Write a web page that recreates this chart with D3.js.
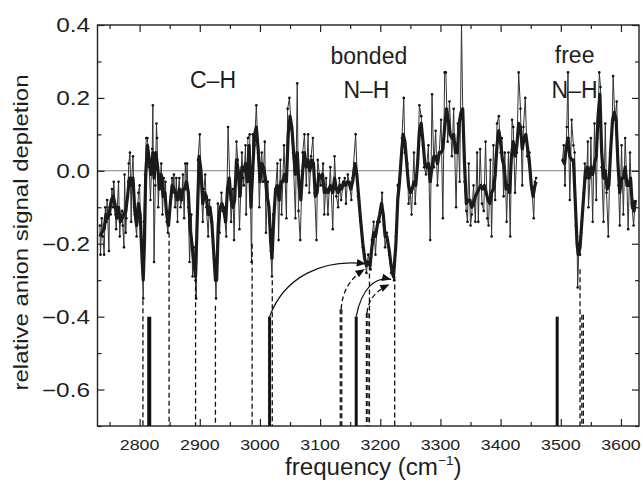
<!DOCTYPE html>
<html><head><meta charset="utf-8">
<script src="https://cdn.jsdelivr.net/npm/d3@7/dist/d3.min.js"></script>
<style>
html,body{margin:0;padding:0;background:#fff}
svg{display:block}
text{font-family:"Liberation Sans",Arial,Helvetica,sans-serif;fill:#1e1e1e}
</style>
</head><body>
<svg id="c" width="643" height="484"></svg>
<script>
// ---------------- data ----------------
const rawFreq = [
2734,2735,2737,2739,2741,2743,2745,2746,2749,2750,2752,2754,2756,2757,2760,2761,2763,2765,2767,2768,
2771,2772,2774,2775,2777,2778,2781,2782,2784,2786,2787,2789,2791,2792,2795,2796,2798,2800,2802,2804,
2806,2807,2809,2811,2813,2814,2816,2818,2821,2822,2824,2826,2828,2829,2831,2833,2834,2836,2838,2840,
2842,2843,2845,2847,2848,2850,2852,2854,2855,2857,2859,2861,2863,2864,2866,2868,2870,2872,2874,2876,
2878,2879,2881,2883,2886,2888,2890,2893,2894,2897,2900,2902,2905,2907,2909,2911,2914,2916,2919,2921,
2924,2926,2927,2930,2933,2936,2938,2940,2942,2944,2947,2950,2952,2955,2957,2959,2961,2963,2966,2968,
2970,2972,2973,2976,2977,2980,2983,2984,2986,2988,2991,2994,2997,2999,3001,3003,3005,3008,3010,3013,
3016,3018,3020,3022,3024,3029,3031,3034,3036,3040,3044,3046,3049,3052,3055,3059,3062,3064,3067,3071,
3074,3077,3080,3082,3085,3088,3091,3094,3096,3101,3105,3107,3110,3113,3117,3121,3124,3127,3130,3132,
3135,3138,3141,3143,3146,3149,3152,3154,3159,3163,3167,3171,3174,3177,3180,3184,3186,3189,3192,3195,
3199,3203,3206,3208,3211,3215,3218,3223,3226,3229,3232,3236,3239,3241,3245,3247,3250,3252,3256,3258,
3262,3265,3268,3271,3273,3276,3280,3283,3286,3289,3292,3295,3298,3301,3304,3307,3309,3312,3315,3319,
3322,3326,3329,3332,3335,3337,3340,3343,3345,3347,3350,3352,3355,3358,3361,3363,3366,3369,3372,3375,
3378,3380,3383,3385,3388,3391,3394,3397,3400,3402,3405,3407,3410,3413,3416,3419,3421,3424,3427,3430,
3433,3436,3438,3441,3444,3448,3452,3455,3457,3459,
3503,3505,3507,3510,3512,3513,3515,3518,3521,3523,3525,3527,3528,3530,3532,3534,3535,3538,3540,3543,
3545,3546,3549,3550,3553,3556,3559,3561,3564,3566,3568,3571,3574,3576,3579,3582,3585,3587,3590,3593,
3596,3598,3601,3604,3607,3610,3612,3615,3618,3621,3623];
const rawVal = [
-0.15,-0.23,-0.13,-0.18,-0.23,-0.10,-0.14,-0.08,-0.22,-0.10,-0.12,-0.05,-0.10,-0.03,-0.12,-0.16,-0.10,-0.03,-0.18,-0.14,
-0.11,-0.15,-0.21,-0.01,-0.17,-0.13,-0.03,0.02,0.05,-0.14,-0.02,0.04,-0.10,-0.12,-0.18,-0.14,-0.06,-0.04,-0.18,-0.25,
-0.35,-0.14,-0.01,0.09,0.09,0.05,0.01,-0.08,0.06,0.18,-0.25,-0.04,0.13,0.09,-0.10,-0.01,-0.04,0.02,-0.12,-0.02,
-0.06,-0.03,-0.14,-0.17,-0.14,-0.12,-0.07,-0.02,-0.06,-0.01,-0.10,-0.02,-0.14,-0.06,-0.02,-0.10,-0.08,-0.01,-0.13,0.02,
-0.04,0.02,-0.10,-0.25,-0.12,-0.29,-0.21,-0.30,-0.35,0.03,0.10,-0.03,-0.14,-0.05,-0.01,-0.10,-0.18,-0.08,-0.14,-0.18,
-0.24,-0.30,-0.35,-0.09,-0.17,-0.06,-0.11,-0.10,-0.14,-0.18,0.12,-0.03,-0.14,-0.05,-0.19,-0.03,0.08,0.03,-0.16,-0.06,
0.05,-0.02,-0.04,0.07,-0.12,0.09,0.10,-0.05,-0.25,0.10,0.07,0.18,0.05,-0.10,0.01,0.05,-0.03,0.08,-0.17,-0.03,
-0.14,-0.22,-0.29,-0.12,-0.10,0.02,-0.19,0.03,-0.12,0.07,-0.13,0.17,0.20,0.12,0.05,-0.13,0.24,-0.11,-0.19,0.05,
0.10,-0.04,0.10,-0.06,0.04,0.09,-0.06,-0.19,0.03,-0.04,0.02,-0.12,-0.02,-0.12,0.01,-0.16,0.04,-0.07,-0.10,-0.02,
-0.08,-0.04,-0.02,-0.09,-0.01,-0.04,-0.08,-0.02,0.10,-0.07,-0.14,-0.21,-0.23,-0.28,-0.23,-0.27,-0.19,-0.14,-0.23,-0.14,
-0.14,-0.06,-0.15,-0.21,-0.17,-0.23,-0.28,-0.30,-0.18,-0.04,-0.02,0.09,0.20,0.05,0.02,-0.09,-0.06,-0.12,0.05,-0.09,
0.02,0.18,0.15,0.07,0.01,-0.01,0.07,-0.19,0.21,0.01,0.11,-0.04,0.05,0.14,-0.13,0.27,0.27,0.08,0.19,0.04,
0.17,-0.10,0.13,-0.03,0.40,0.17,-0.03,-0.11,-0.14,0.02,-0.15,-0.12,-0.04,-0.14,0.05,-0.14,0.06,-0.09,-0.11,0.08,
-0.13,-0.15,0.03,-0.18,0.07,-0.08,0.13,0.15,0.05,0.09,-0.07,0.05,-0.14,0.05,-0.18,0.14,0.12,-0.06,0.05,0.27,
0.17,-0.04,0.12,0.20,0.04,0.05,-0.05,-0.13,-0.03,-0.02,
0.03,0.07,-0.04,0.12,0.27,0.09,-0.08,0.14,0.07,0.05,-0.15,-0.18,-0.32,-0.22,-0.23,-0.17,-0.14,-0.06,0.02,-0.02,
0.08,-0.10,-0.01,0.09,-0.14,0.13,-0.08,0.09,0.27,0.23,0.01,-0.14,0.13,-0.06,-0.18,0.05,0.09,0.26,0.14,0.19,
-0.04,-0.15,0.07,-0.12,0.09,-0.04,-0.16,0.05,-0.09,-0.15,-0.10];

const smoothFreq = [
2734,2737,2741,2744,2747,2750,2753,2756,2759,2762,2765,2768,2771,2774,2777,2780,2783,2786,2789,2792,
2795,2798,2801,2804,2806,2808,2810,2813,2816,2819,2822,2824,2827,2830,2833,2836,2839,2842,2845,2848,
2851,2854,2857,2860,2863,2866,2869,2872,2875,2878,2881,2884,2887,2890,2893,2896,2899,2902,2905,2908,
2911,2914,2917,2920,2923,2926,2928,2931,2934,2937,2940,2943,2946,2949,2952,2955,2958,2961,2964,2967,
2970,2973,2976,2979,2982,2985,2988,2991,2994,2997,3000,3003,3006,3009,3012,3015,3018,3020,3023,3026,
3029,3032,3035,3038,3041,3044,3047,3050,3053,3056,3059,3062,3065,3068,3071,3074,3077,3080,3083,3086,
3089,3092,3095,3098,3101,3104,3107,3110,3113,3117,3121,3124,3127,3130,3133,3136,3139,3142,3145,3148,
3151,3154,3158,3161,3164,3167,3171,3174,3177,3180,3183,3186,3189,3192,3195,3199,3202,3205,3208,3211,
3215,3218,3222,3226,3229,3232,3235,3238,3241,3244,3247,3250,3253,3256,3259,3262,3265,3268,3271,3274,
3277,3280,3283,3286,3289,3292,3295,3298,3301,3304,3307,3310,3313,3316,3319,3322,3325,3328,3331,3334,
3337,3340,3343,3346,3349,3352,3355,3358,3361,3364,3367,3370,3373,3376,3379,3382,3385,3388,3391,3394,
3397,3400,3403,3406,3409,3412,3415,3418,3421,3424,3427,3430,3433,3436,3439,3442,3445,3448,3451,3454,
3457,3459,
3503,3506,3509,3512,3515,3518,3521,3524,3527,3529,3532,3535,3538,3541,3544,3547,3550,3553,3556,3559,
3562,3565,3568,3571,3574,3577,3580,3583,3586,3589,3592,3595,3598,3601,3604,3607,3610,3613,3616,3619,
3622,3624];
const smoothVal = [
-0.18,-0.17,-0.16,-0.12,-0.13,-0.11,-0.08,-0.07,-0.09,-0.13,-0.10,-0.14,-0.13,-0.12,-0.11,-0.07,-0.02,-0.04,-0.02,-0.11,
-0.15,-0.09,-0.12,-0.24,-0.30,-0.20,-0.02,0.07,0.03,-0.01,0.05,-0.02,0.05,0.01,-0.05,-0.01,-0.07,-0.06,-0.12,-0.15,
-0.09,-0.04,-0.05,-0.06,-0.08,-0.05,-0.08,-0.05,-0.05,-0.03,-0.06,-0.16,-0.20,-0.25,-0.29,-0.12,0.04,0.00,-0.09,-0.06,
-0.07,-0.12,-0.10,-0.14,-0.22,-0.30,-0.30,-0.14,-0.10,-0.09,-0.11,-0.14,-0.05,-0.02,-0.08,-0.10,-0.08,0.03,0.00,-0.07,
0.01,0.00,0.02,-0.03,0.07,-0.10,0.00,0.10,0.12,0.06,-0.03,0.02,0.01,-0.02,-0.07,-0.10,-0.20,-0.24,-0.13,-0.05,
-0.04,-0.08,-0.03,-0.03,-0.01,-0.03,0.10,0.15,0.12,0.05,-0.01,0.05,-0.04,-0.08,0.00,0.05,0.01,0.03,0.00,0.03,
0.02,-0.07,-0.06,-0.01,-0.02,-0.01,-0.06,-0.05,-0.06,-0.04,-0.06,-0.02,-0.05,-0.06,-0.04,-0.05,-0.03,-0.04,-0.03,-0.03,
-0.05,-0.03,0.02,-0.01,-0.07,-0.13,-0.20,-0.24,-0.26,-0.25,-0.26,-0.21,-0.17,-0.18,-0.15,-0.12,-0.09,-0.12,-0.18,-0.18,
-0.22,-0.26,-0.29,-0.20,-0.08,-0.03,0.04,0.10,0.08,0.02,-0.04,-0.06,-0.05,-0.03,-0.04,0.02,0.11,0.13,0.08,0.02,
0.01,0.02,-0.03,0.01,0.04,0.04,0.02,0.05,0.05,0.06,0.12,0.17,0.14,0.10,0.09,0.10,0.05,0.05,0.13,0.16,
0.17,0.02,-0.09,-0.08,-0.08,-0.10,-0.09,-0.07,-0.06,-0.05,-0.04,-0.05,-0.04,-0.06,-0.08,-0.09,-0.06,-0.05,-0.01,0.07,
0.11,0.08,0.03,0.01,-0.05,-0.04,-0.06,0.04,0.08,0.04,0.07,0.13,0.12,0.06,0.09,0.10,0.06,0.02,-0.04,-0.07,
-0.04,-0.03,
0.03,0.02,0.06,0.09,0.04,0.03,0.03,-0.08,-0.20,-0.23,-0.21,-0.14,-0.07,0.00,0.01,-0.02,0.01,-0.01,0.02,0.04,
0.15,0.21,0.05,-0.02,0.00,-0.05,-0.04,0.06,0.14,0.16,0.14,0.02,-0.06,-0.02,-0.02,0.01,-0.04,-0.04,-0.02,-0.10,
-0.11,-0.08];

const xTicks = [2800,2900,3000,3100,3200,3300,3400,3500,3600];
const xTickLabels = ["2800","2900","3000","3100","3200","3300","3400","3500","3600"];
const xMinorTicks = [2750,2850,2950,3050,3150,3250,3350,3450,3550];
const yTicks = [0.4,0.2,0.0,-0.2,-0.4,-0.6];
const yTickLabels = ["0.4","0.2","0.0","\u22120.2","\u22120.4","\u22120.6"];
const yMinorTicks = [0.3,0.1,-0.1,-0.3,-0.5,-0.7];

// calculated frequencies (sticks) and experimental band positions (dashed)
const stickFreq = [2816,3016,3160,3494];
const stickTop = -0.4;
const dashFreq = [2805.5,2849,2893,2926,2987,3020.5,3133.5,3136,3177,3179.5,3182,3224,3532,3535,3537.5];
const dashTop  = [-0.355,-0.17,-0.295,-0.37,-0.2,-0.30,-0.38,-0.38,-0.39,-0.39,-0.26,-0.29,-0.27,-0.395,-0.395];

// arrows linking calculated to observed bands
const arcFromFreq = [3016,3135,3160,3178];
const arcFromVal  = [-0.40,-0.38,-0.40,-0.39];
const arcToFreq   = [3176,3174,3218,3215];
const arcToVal    = [-0.255,-0.27,-0.298,-0.312];
const arcDashed   = [false,true,false,true];

const bandLabels = ["C\u2013H","bonded","N\u2013H","free","N\u2013H"];
const bandLabelFreq = [2922,3181,3177,3523,3523];
const bandLabelVal  = [0.227,0.293,0.200,0.296,0.200];

// ---------------- chart ----------------
const M = {left:97.5, right:639, top:25, bottom:426};
const svg = d3.select("#c");
const x = d3.scaleLinear().domain([2730,3630]).range([M.left, M.right]);
const y = d3.scaleLinear().domain([-0.7,0.4]).range([M.bottom, M.top]);

svg.append("defs").append("clipPath").attr("id","plot")
  .append("rect").attr("x",M.left).attr("y",M.top)
  .attr("width",M.right-M.left).attr("height",M.bottom-M.top);

const plot = svg.append("g").attr("clip-path","url(#plot)");

plot.append("line").attr("x1",M.left).attr("x2",M.right)
  .attr("y1",y(0)).attr("y2",y(0)).attr("stroke","#808080").attr("stroke-width",1.1);

function toSegments(fs, vs){
  const segs=[]; let cur=[];
  fs.forEach((f,i)=>{
    if(cur.length && f - cur[cur.length-1].f > 20){ segs.push(cur); cur=[]; }
    cur.push({f:f, v:vs[i]});
  });
  if(cur.length) segs.push(cur);
  return segs;
}
const line = d3.line().x(d=>x(d.f)).y(d=>y(d.v));

toSegments(rawFreq, rawVal).forEach(s=>{
  plot.append("path").attr("d",line(s)).attr("fill","none")
    .attr("stroke","#333").attr("stroke-width",1).attr("stroke-linejoin","round");
});
plot.append("g").selectAll("circle").data(rawFreq.map((f,i)=>({f:f,v:rawVal[i]})))
  .join("circle").attr("cx",d=>x(d.f)).attr("cy",d=>y(d.v)).attr("r",1.3).attr("fill","#111");

toSegments(smoothFreq, smoothVal).forEach(s=>{
  plot.append("path").attr("d",line(s)).attr("fill","none")
    .attr("stroke","#1b1b1b").attr("stroke-width",3.2).attr("stroke-linejoin","round");
});

plot.append("g").selectAll("line").data(dashFreq.map((f,i)=>({f:f,v:dashTop[i]})))
  .join("line").attr("x1",d=>x(d.f)).attr("x2",d=>x(d.f))
  .attr("y1",d=>y(d.v)).attr("y2",y(-0.7))
  .attr("stroke","#111").attr("stroke-width",1.3).attr("stroke-dasharray","5,3");

plot.append("g").selectAll("line").data(stickFreq)
  .join("line").attr("x1",d=>x(d)).attr("x2",d=>x(d))
  .attr("y1",y(stickTop)).attr("y2",y(-0.7))
  .attr("stroke","#111").attr("stroke-width",(d,i)=>i===0?4:3);

arcFromFreq.forEach((f0,i)=>{
  const x0=x(f0), y0=y(arcFromVal[i]), x1=x(arcToFreq[i]), y1=y(arcToVal[i]);
  const dx=x1-x0, dy=y0-y1;
  let c1, c2;
  if(!arcDashed[i]){ c1=[x0+0.15*dx, y0-0.75*dy]; c2=[x0+0.55*dx, y1-0.1*dy]; }
  else { c1=[x0+0.05*dx, y0-0.5*dy]; c2=[x0+0.45*dx, y1+0.2*dy]; }
  const p = d3.path(); p.moveTo(x0,y0); p.bezierCurveTo(c1[0],c1[1],c2[0],c2[1],x1,y1);
  const ang = Math.atan2(y1-c2[1], x1-c2[0]);
  const L=9, hw=3.8;
  const bx=x1-L*Math.cos(ang), by=y1-L*Math.sin(ang);
  svg.append("path").attr("d",p.toString()).attr("fill","none").attr("stroke","#111")
    .attr("stroke-width",arcDashed[i]?1.3:1.2).attr("stroke-dasharray",arcDashed[i]?"5,3":null);
  const pts=[[x1,y1],[bx+hw*Math.sin(ang),by-hw*Math.cos(ang)],[bx-hw*Math.sin(ang),by+hw*Math.cos(ang)]];
  svg.append("path").attr("d","M"+pts.map(q=>q.join(",")).join("L")+"Z").attr("fill","#111");
});

function styleAxis(g){ g.select(".domain").remove(); g.selectAll("line").attr("stroke","#222").attr("stroke-width",1.2); g.selectAll("text").remove(); }
svg.append("g").attr("transform",`translate(0,${M.bottom})`).call(d3.axisBottom(x).tickValues(xTicks).tickSize(-7)).call(styleAxis);
svg.append("g").attr("transform",`translate(0,${M.bottom})`).call(d3.axisBottom(x).tickValues(xMinorTicks).tickSize(-4)).call(styleAxis);
svg.append("g").attr("transform",`translate(0,${M.top})`).call(d3.axisTop(x).tickValues(xTicks).tickSize(-7)).call(styleAxis);
svg.append("g").attr("transform",`translate(0,${M.top})`).call(d3.axisTop(x).tickValues(xMinorTicks).tickSize(-4)).call(styleAxis);
svg.append("g").attr("transform",`translate(${M.left},0)`).call(d3.axisLeft(y).tickValues(yTicks).tickSize(-7)).call(styleAxis);
svg.append("g").attr("transform",`translate(${M.left},0)`).call(d3.axisLeft(y).tickValues(yMinorTicks).tickSize(-4)).call(styleAxis);
svg.append("g").attr("transform",`translate(${M.right},0)`).call(d3.axisRight(y).tickValues(yTicks).tickSize(-7)).call(styleAxis);
svg.append("g").attr("transform",`translate(${M.right},0)`).call(d3.axisRight(y).tickValues(yMinorTicks).tickSize(-4)).call(styleAxis);

svg.append("rect").attr("x",M.left).attr("y",M.top).attr("width",M.right-M.left).attr("height",M.bottom-M.top)
  .attr("fill","none").attr("stroke","#1e1e1e").attr("stroke-width",1.4);

const tl = svg.append("g");
xTicks.forEach((t,i)=>{
  tl.append("text").attr("transform",`translate(${x(t)},${M.bottom+24}) scale(1.15,1)`)
    .attr("text-anchor","middle").attr("font-size",15.5).text(xTickLabels[i]);
});
yTicks.forEach((t,i)=>{
  tl.append("text").attr("transform",`translate(${M.left-7.5},${y(t)+7}) scale(1.25,1)`)
    .attr("text-anchor","end").attr("font-size",19.5).text(yTickLabels[i]);
});

const xt = svg.append("text").attr("transform",`translate(${(M.left+M.right)/2+5},475) scale(1.05,1)`)
  .attr("text-anchor","middle").attr("font-size",23);
xt.append("tspan").text("frequency (cm");
xt.append("tspan").attr("font-size",13).attr("dy",-10).text("\u22121");
xt.append("tspan").attr("font-size",23).attr("dy",10).text(")");

svg.append("text").attr("transform",`translate(28,232.5) rotate(-90)`)
  .attr("text-anchor","middle").attr("font-size",21)
  .attr("textLength",316).attr("lengthAdjust","spacingAndGlyphs")
  .text("relative anion signal depletion");

bandLabels.forEach((s,i)=>{
  svg.append("text").attr("x",x(bandLabelFreq[i])).attr("y",y(bandLabelVal[i]))
    .attr("text-anchor","middle").attr("font-size",23).text(s);
});
</script>
</body></html>
